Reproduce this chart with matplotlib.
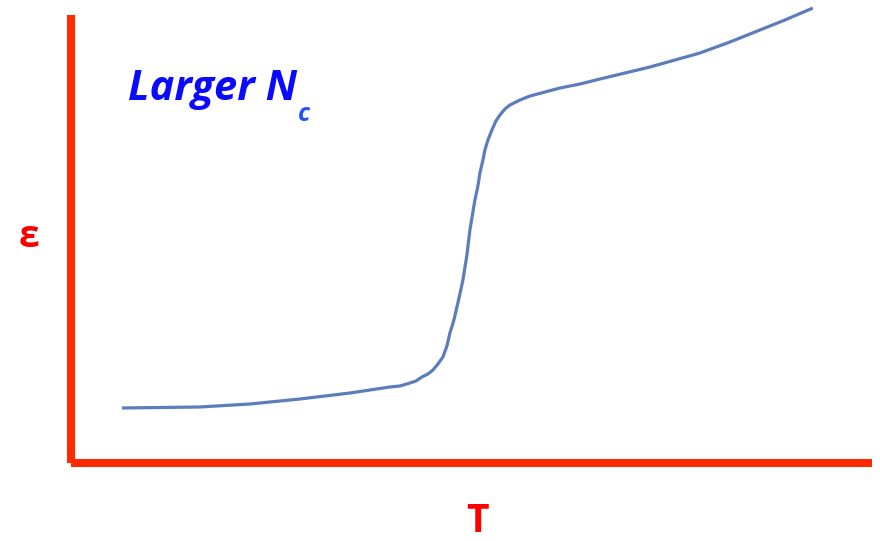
import matplotlib
matplotlib.use("Agg")
import matplotlib.pyplot as plt
import matplotlib.patheffects as pe

# curve (T along the axis, epsilon above the T axis)
T_vals = [51, 129, 179, 229, 279, 319, 329, 339, 345, 351, 357, 362, 367,
          372, 376, 379, 383, 386, 389, 392, 396, 399, 402, 404, 407, 409,
          412, 414, 417, 421, 425, 429, 434, 439, 449, 459, 474, 489, 509,
          529, 579, 629, 659, 689, 714, 742]
eps_vals = [55, 56, 59, 64, 70, 76, 77, 80, 82, 86, 89, 93, 99,
            106, 117, 130, 143, 156, 169, 183, 208, 233, 251, 263, 277, 290,
            303, 313, 323, 333, 342, 348, 354, 358, 363, 367, 371, 375, 379,
            384, 396, 410, 421, 433, 443, 455]

x_label = "T"
y_label = "\u03b5"
note = "Larger N"
note_sub = "c"

curve_color = "#5b7dbb"
axis_color = "#ff2a00"

fig = plt.figure(figsize=(8.8, 5.41), dpi=100)
ax = fig.add_axes([0.0807, 0.1442, 0.910, 0.828])

ax.plot(T_vals, eps_vals, color=curve_color, lw=2.3, solid_capstyle="butt",
        solid_joinstyle="round", clip_on=False)

ax.set_xlim(0, 801)
ax.set_ylim(0, 448)
ax.set_xticks([])
ax.set_yticks([])

shadow = [pe.SimplePatchShadow(offset=(2, -2), shadow_rgbFace="0.6", alpha=0.5), pe.Normal()]
for side in ["top", "right"]:
    ax.spines[side].set_visible(False)
for side in ["left", "bottom"]:
    ax.spines[side].set_color(axis_color)
    ax.spines[side].set_linewidth(5.8)
    ax.spines[side].set_path_effects(shadow)
    ax.spines[side].set_capstyle("butt")

fig.text(0.543, 0.016, x_label, color="#ff0000", fontsize=28, fontweight="bold",
         family="Open Sans", ha="center", va="baseline")
fig.text(0.033, 0.543, y_label, color="#ff0000", fontsize=27, fontweight="bold",
         family="Open Sans", ha="center", va="baseline")

main = fig.text(0.145, 0.815, note, color="#0a0aff", fontsize=30, fontweight="bold",
                style="italic", family="Open Sans", ha="left", va="baseline")
ax.annotate(note_sub, xy=(1, 0), xycoords=main, xytext=(1, -8), textcoords="offset points",
            color="#2255f0", fontsize=18, fontweight="bold", style="italic",
            family="Open Sans", ha="left", va="baseline")

fig.savefig("out.png", dpi=100, facecolor="white")
